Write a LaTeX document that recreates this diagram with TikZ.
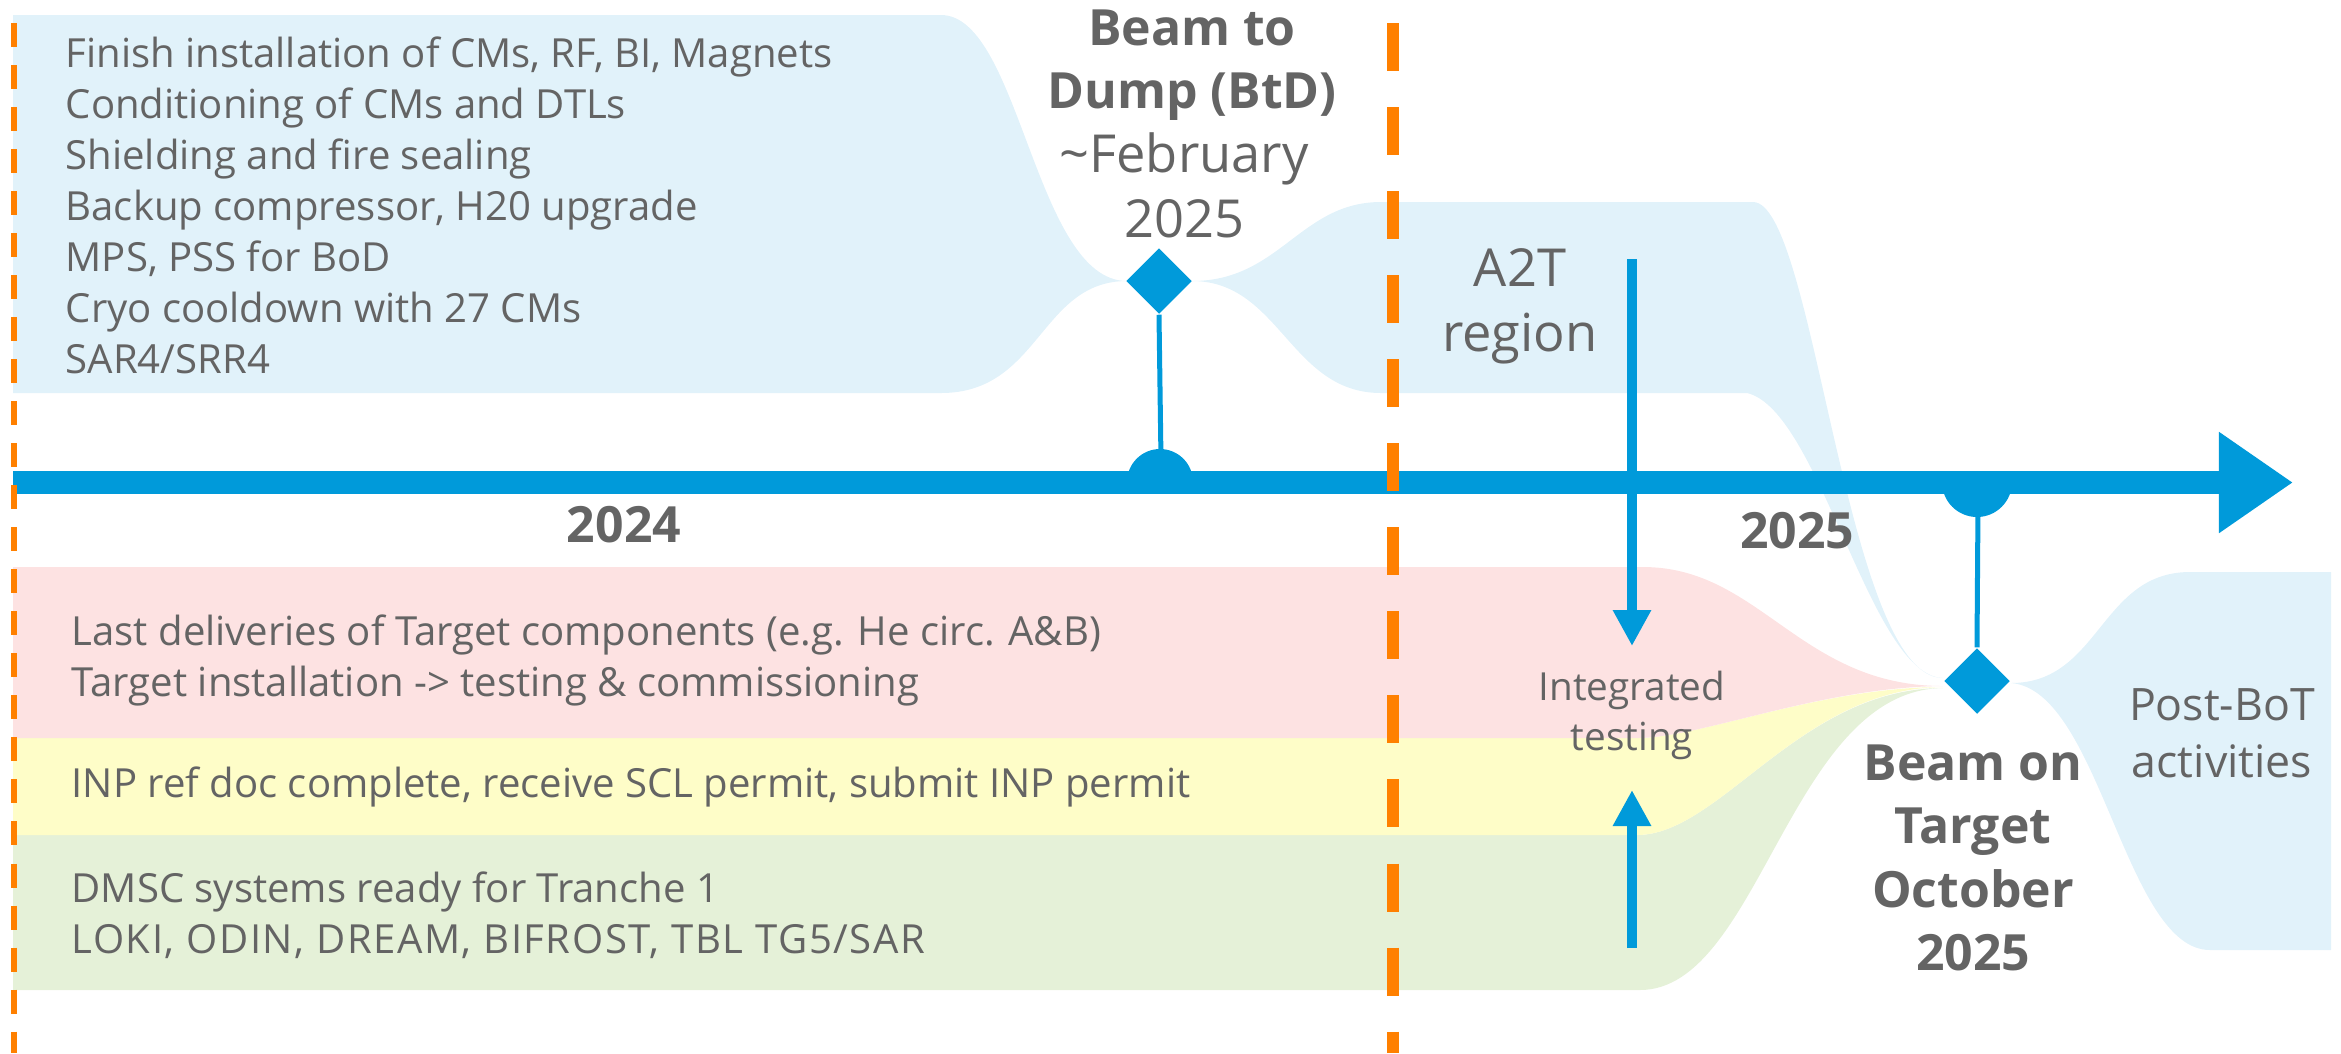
\documentclass[tikz,border=0pt]{standalone}
\usepackage{fontspec}
\setmainfont{Open Sans}
\usepackage{tikz}
\usetikzlibrary{arrows.meta,shapes.geometric}

\definecolor{tlblue}{RGB}{0,154,218}
\definecolor{tlorange}{RGB}{255,128,0}
\definecolor{fillblue}{RGB}{225,242,250}
\definecolor{fillred}{RGB}{253,226,226}
\definecolor{fillyellow}{RGB}{254,253,200}
\definecolor{fillgreen}{RGB}{229,241,216}
\definecolor{txtgrey}{RGB}{100,100,100}

\tikzset{
  every node/.style={text=txtgrey, inner sep=0pt},
  listtext/.style={align=left, anchor=west, font=\fontsize{11.4}{14.5}\selectfont},
  bigtext/.style={align=center, font=\fontsize{14.9}{18.5}\selectfont},
  boldtext/.style={align=center, font=\bfseries\fontsize{14.2}{18}\selectfont},
  milestone/.style={diamond, fill=tlblue, minimum width=0.66cm, minimum height=0.66cm},
  stem/.style={draw=tlblue, line width=0.05cm},
  feed/.style={draw=tlblue, line width=0.1cm, -{Triangle[width=0.36cm,length=0.36cm]}},
  yearline/.style={draw=tlorange}
}

\begin{document}
\begin{tikzpicture}[x=0.01cm, y=-0.01cm]
  \useasboundingbox (0,0) rectangle (2341,1053);

  % bands
  \fill[fillblue] (13,15) -- (941,15) .. controls (1020,15) and (1035,281) .. (1127,281)
    .. controls (1040,281) and (1040,393) .. (941,393) -- (13,393) -- cycle;
  \fill[fillblue] (1192,281) .. controls (1280,281) and (1300,202) .. (1381,202) -- (1753,202)
    .. controls (1815,202) and (1845,678) .. (1943,678)
    .. controls (1870,676) and (1820,410) .. (1747,393) -- (1381,393)
    .. controls (1290,393) and (1280,281) .. (1192,281) -- cycle;
  \fill[fillgreen] (13,835) -- (1637,835) .. controls (1720,835) and (1800,688) .. (1943,688)
    .. controls (1790,690) and (1760,990) .. (1640,990) -- (13,990) -- cycle;
  \fill[fillyellow] (13,738) -- (1637,738) .. controls (1700,738) and (1820,687) .. (1943,687)
    .. controls (1800,688) and (1720,835) .. (1637,835) -- (13,835) -- cycle;
  \fill[fillred] (13,567) -- (1643,567) .. controls (1760,567) and (1800,686) .. (1943,686)
    .. controls (1820,687) and (1700,738) .. (1637,738) -- (13,738) -- cycle;
  \fill[fillblue] (2011,683) .. controls (2100,683) and (2100,572) .. (2190,572) -- (2331,572)
    -- (2331,950) -- (2210,950) .. controls (2125,950) and (2100,690) .. (2011,683) -- cycle;

  % time axis
  \coordinate (t0) at (13,482.5);
  \coordinate (t1) at (2293,482.5);
  \draw[tlblue, line width=0.23cm, -{Triangle[width=0.96cm,length=0.74cm]}] (t0) -- (t1);
  \fill[tlblue] (1127,482) arc[start angle=180, end angle=360, radius=33] -- cycle;
  \fill[tlblue] (1942,482) arc[start angle=180, end angle=0, radius=35] -- cycle;

  % year boundaries
  \draw[yearline, line width=0.06cm, dash pattern=on 0.24cm off 0.18cm] (14,23) -- (14,1053);
  \draw[yearline, line width=0.12cm, dash pattern=on 0.48cm off 0.36cm] (1393,23) -- (1393,1053);

  % milestones
  \node[milestone] (btd) at (1159,281) {};
  \node[milestone] (bot) at (1977,681) {};
  \coordinate (btdpin) at (1161,460);
  \coordinate (botpin) at (1978,505);
  \draw[stem] (btd.south) -- (btdpin);
  \draw[stem] (bot.north) -- (botpin);

  % integration arrows
  \coordinate (a2tin) at (1632,259);
  \coordinate (itop) at (1632,646);
  \coordinate (dmscin) at (1632,948);
  \coordinate (ibot) at (1632,790);
  \draw[feed] (a2tin) -- (itop);
  \draw[feed] (dmscin) -- (ibot);

  % texts
  \node[listtext] (preplist) at (65,205) {Finish installation of CMs, RF, BI, Magnets\\
    Conditioning of CMs and DTLs\\Shielding and fire sealing\\Backup compressor, H20 upgrade\\
    MPS, PSS for BoD\\Cryo cooldown with 27 CMs\\SAR4/SRR4};
  \node[listtext] (tgtlist) at (71,660) {Last deliveries of Target components (e.g. He circ. A\&B)\\
    Target installation -> testing \& commissioning};
  \node[listtext] (inplist) at (71,787) {INP ref doc complete, receive SCL permit, submit INP permit};
  \node[listtext] (dmsclist) at (71,915) {DMSC systems ready for Tranche 1\\
    {\addfontfeature{LetterSpace=3.8}LOKI, ODIN, DREAM, BIFROST, TBL TG5/SAR}};

  \node[boldtext] (btdlabel) at (1192,65) {Beam to\\Dump (BtD)};
  \node[bigtext] (btddate) at (1184,185) {\textasciitilde February\\2025};
  \node[bigtext] (a2t) at (1520,306) {A2T\\region};
  \node[align=center, font=\fontsize{11}{14.2}\selectfont] (itest) at (1632,715) {Integrated\\testing};
  \node[align=center, font=\fontsize{12.7}{16.2}\selectfont] (postbot) at (2222,733) {Post-BoT\\activities};
  \node[boldtext] (botlabel) at (1973,858) {Beam on\\Target\\October\\2025};
  \node[boldtext] (y2024) at (624,525) {2024};
  \node[boldtext] (y2025) at (1797,531) {2025};
\end{tikzpicture}
\end{document}
